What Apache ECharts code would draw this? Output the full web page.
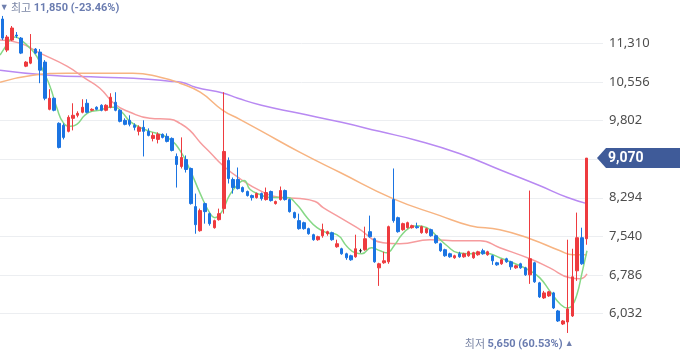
<!DOCTYPE html>
<html><head><meta charset="utf-8">
<script src="https://cdn.jsdelivr.net/npm/echarts@6/dist/echarts.min.js"></script>
<style>html,body{margin:0;padding:0;background:#fff}#c{width:680px;height:358px}</style>
</head><body><div id="c"></div>
<script>
// [open, close, low, high]
const candles = [
[11790,11417,11378,11850],[11182,11437,11143,11476],[11378,11614,11359,11653],[11476,11457,11417,11535],
[11417,11123,11104,11437],[10868,10947,10849,10966],[10927,11045,10907,11496],[11202,11123,11104,11221],
[11143,10790,10535,11202],[10947,10240,10201,10986],[10024,10240,10005,10417],[10240,10005,9985,10260],
[9750,9279,9259,9769],[9711,9475,9436,9750],[9593,9867,9573,9907],[9848,9907,9612,10142],
[9907,9946,9867,9985],[9966,10064,9946,10221],[10142,9966,9946,10221],[10005,10024,9985,10044],
[10064,10024,10005,10083],[10103,10005,9985,10123],[10005,10103,9985,10123],[10064,10260,10044,10338],
[10162,10005,9985,10358],[10005,9789,9769,10024],[9809,9730,9711,9848],[9809,9730,9691,9907],
[9711,9671,9612,9750],[9593,9671,9514,9711],[9671,9593,9102,9809],[9593,9514,9495,9652],
[9455,9514,9397,9573],[9436,9534,9357,9573],[9534,9475,9455,9553],[9495,9397,9377,9553],
[9455,9220,9200,9475],[9102,8945,8494,9161],[8906,9083,8867,9475],[9043,8847,8788,9122],
[8867,8180,8161,8886],[8121,7768,7591,8376],[7650,8043,7631,8082],[8180,8023,7788,8200],
[7984,7788,7749,8004],[7709,7847,7690,7866],[7866,7984,7847,8082],[8082,9200,7984,10358],
[9024,8671,8573,9083],[8651,8494,8376,8690],[8651,8474,8455,8886],[8494,8416,8396,8514],
[8416,8337,8318,8435],[8337,8298,8239,8357],[8298,8376,8278,8396],[8376,8278,8239,8396],
[8259,8396,8239,8494],[8416,8239,8220,8435],[8180,8220,8161,8239],[8259,8435,8239,8514],
[8435,8259,8239,8455],[8259,8023,8004,8278],[8004,7905,7886,8023],[7847,7690,7670,7984],
[7807,7690,7670,7827],[7690,7591,7572,7709],[7572,7474,7454,7591],[7474,7533,7454,7552],
[7552,7670,7513,7788],[7591,7631,7552,7650],[7611,7474,7454,7631],[7336,7395,7317,7474],
[7297,7199,7180,7317],[7199,7121,7081,7219],[7160,7081,7062,7180],[7140,7297,7121,7572],
[7258,7258,7219,7297],[7278,7493,7258,7729],[7631,7533,7513,7945],[7493,7042,7023,7513],
[6924,7003,6571,7023],[7023,7062,7003,7238],[7042,7729,7003,7749],[8259,7847,7807,8867],
[7905,7631,7611,7925],[7670,7788,7650,7807],[7709,7807,7690,7827],[7709,7749,7690,7768],
[7729,7709,7690,7807],[7611,7729,7591,7749],[7611,7690,7591,7709],[7670,7552,7533,7690],
[7552,7415,7395,7572],[7395,7258,7238,7415],[7278,7160,7140,7297],[7199,7140,7121,7219],
[7121,7160,7101,7180],[7199,7140,7121,7238],[7140,7199,7121,7219],[7160,7238,7140,7258],
[7121,7219,7101,7238],[7180,7238,7160,7258],[7258,7199,7180,7297],[7180,7238,7160,7258],
[7160,7062,6983,7180],[7023,6983,6964,7042],[7003,7081,6983,7101],[7101,7042,7023,7121],
[7042,6944,6885,7062],[6924,6964,6905,6983],[7003,6924,6905,7023],[6924,6787,6767,6944],
[6787,7101,6610,8435],[7023,6650,6630,7042],[6630,6356,6336,6650],[6336,6434,6316,6473],
[6375,6454,6356,6473],[6434,6140,6120,6454],[6081,5885,5865,6101],[5826,5885,5806,5904],
[5865,6120,5650,7474],[5983,6748,5963,7297],[6866,7513,6669,8004],[7513,7003,6983,7709],
[7493,9070,7376,9070]
];
// moving averages: [candle index, value]
const ma5 = [[-0.5,11084],[0.6,11241],[1.6,11378],[2.7,11437],[3.7,11398],[5.9,11221],[7.4,11045],[8.6,10790],[10.1,10476],[11.6,10044],[12.9,9769],[14.4,9691],[15.8,9730],[17.5,9907],[19,9985],[20.7,10005],[22.8,10064],[23.9,10064],[25.4,9966],[27.1,9789],[29.2,9671],[31.3,9593],[33.5,9534],[35.6,9436],[37.7,9220],[39.8,8847],[42,8376],[44.1,7984],[45.1,7905],[46.6,8023],[48.3,8357],[50.4,8592],[51.3,8631],[52.6,8455],[54.7,8357],[56.8,8298],[60.4,8298],[62.5,8161],[64.7,7905],[66.8,7709],[68.9,7611],[71,7572],[73.2,7336],[74.9,7219],[76.3,7199],[78.3,7317],[80.2,7258],[81.6,7219],[83.3,7376],[84.8,7572],[86.5,7709],[88,7749],[90.1,7709],[92.3,7533],[94.4,7356],[96.7,7219],[99.3,7199],[101.4,7219],[103.5,7199],[105.6,7121],[107.8,7042],[109.9,6964],[112,6866],[114.1,6728],[116.2,6473],[118.4,6218],[119.9,6140],[120.9,6179],[122,6414],[123,6807],[124.1,7258]];
const ma20 = [[-0.5,11378],[3.7,11319],[8,11123],[13.7,10868],[17.5,10633],[20.7,10437],[23.9,10123],[27.1,9966],[31.3,9848],[35.6,9828],[37.7,9750],[39.8,9612],[42,9377],[44.1,9181],[46.8,8926],[50.4,8671],[54.7,8435],[58.9,8298],[63.2,8278],[66.4,8220],[68.1,8102],[71.7,7905],[75.3,7709],[80.8,7415],[84.4,7395],[90.8,7474],[97.1,7454],[101.4,7454],[105.6,7317],[112,7101],[116.2,6924],[120.5,6728],[122.6,6709],[124.1,6807]];
const ma60 = [[-0.5,10554],[6.5,10691],[13.7,10731],[27.7,10731],[33.5,10652],[37.7,10535],[42,10358],[46.8,10005],[50.4,9828],[54.7,9612],[63.2,9181],[71.7,8788],[82.9,8278],[92.9,7945],[99.3,7749],[105.6,7670],[112,7494],[118.4,7258],[121.1,7180],[124.1,7180]];
const ma120 = [[-0.5,10790],[10,10691],[21,10652],[31,10613],[35.5,10574],[38,10554],[41,10456],[47,10338],[50,10240],[55,10103],[63,9946],[72,9769],[80,9593],[88,9416],[97,9161],[106,8828],[114,8533],[120,8298],[124.1,8180]];
const yTicks = {min: 5278, max: 12064, interval: 754};
const slotCount = 128;
const categories = Array.from({length: slotCount}, (_, i) => String(i + 1));

const highVal = 11850, lowVal = 5650, lastClose = 9070;
const fmt = v => v.toLocaleString('en-US');
const pctFromHigh = ((lastClose - highVal) / highVal * 100).toFixed(2);
const pctFromLow = ((lastClose - lowVal) / lowVal * 100).toFixed(2);

const chart = echarts.init(document.getElementById('c'), null, {renderer: 'canvas'});
const lineSeries = (name, data, color, w) => ({
  name, type: 'line', xAxisIndex: 1, data, smooth: true, symbol: 'none',
  lineStyle: {color, width: w}, z: 1, silent: true, animation: false
});
chart.setOption({
  animation: false,
  grid: {left: 0, right: 77, top: 5, bottom: 6},
  xAxis: [
    {type: 'category', data: categories, boundaryGap: true, show: false},
    {type: 'value', min: -0.5, max: slotCount - 0.5, show: false}
  ],
  yAxis: {
    type: 'value', position: 'right', min: yTicks.min, max: yTicks.max, interval: yTicks.interval,
    axisLine: {show: false}, axisTick: {show: false},
    splitLine: {show: true, showMinLine: false, showMaxLine: false, lineStyle: {color: '#eceef1', width: 1}},
    axisLabel: {
      margin: 6, color: '#4d4d4d', fontSize: 13, fontFamily: 'Noto Sans, sans-serif',
      showMinLabel: false, showMaxLabel: false,
      formatter: v => (v === 9048 ? '' : fmt(v))
    }
  },
  series: [
    lineSeries('MA120', ma120, '#b889f2', 1.5),
    lineSeries('MA60', ma60, '#f7b482', 1.5),
    lineSeries('MA20', ma20, '#f69c9e', 1.5),
    lineSeries('MA5', ma5, '#86d886', 1.5),
    {
      type: 'candlestick', data: candles, barWidth: 3, z: 3,
      itemStyle: {
        color: '#ee3b3f', color0: '#1b74e2',
        borderColor: '#ee3b3f', borderColor0: '#1b74e2', borderColorDoji: '#222', borderWidth: 1
      }
    }
  ]
});

const yLast = chart.convertToPixel({yAxisIndex: 0}, lastClose);
const hiPt = chart.convertToPixel({xAxisIndex: 0, yAxisIndex: 0}, [0, highVal]);
const loPt = chart.convertToPixel({xAxisIndex: 0, yAxisIndex: 0}, [120, lowVal]);
const fontK = '"Noto Sans CJK KR", sans-serif';
const fontN = 'Roboto, "Noto Sans", sans-serif';
chart.setOption({
  graphic: [
    {
      type: 'polygon', z: 100,
      shape: {points: [[597, yLast], [606, yLast - 10], [680, yLast - 10], [680, yLast + 10], [606, yLast + 10]]},
      style: {fill: '#3f5b99'}
    },
    {
      type: 'text', z: 101, x: 608, y: yLast,
      style: {text: fmt(lastClose), fill: '#fff', font: 'bold 14px Roboto, "Noto Sans", sans-serif', verticalAlign: 'middle', align: 'left'}
    },
    {
      type: 'text', z: 101, x: hiPt[0] - 2.5, y: hiPt[1] - 8,
      style: {
        text: '{s|▼ }{a|최고 }{b|' + fmt(highVal) + ' (' + pctFromHigh + '%)}',
        verticalAlign: 'middle', align: 'left',
        rich: {
          s: {fill: '#6f7fae', fontSize: 9, fontFamily: fontN},
          a: {fill: '#7c87a6', fontSize: 11, fontFamily: fontK},
          b: {fill: '#6a7cb0', fontSize: 11, fontWeight: 'bold', fontFamily: fontN}
        }
      }
    },
    {
      type: 'text', z: 101, x: loPt[0] + 6, y: loPt[1] + 11,
      style: {
        text: '{a|최저 }{b|' + fmt(lowVal) + ' (' + pctFromLow + '%)}{s| ▲}',
        verticalAlign: 'middle', align: 'right',
        rich: {
          s: {fill: '#6f7fae', fontSize: 9, fontFamily: fontN},
          a: {fill: '#7c87a6', fontSize: 11, fontFamily: fontK},
          b: {fill: '#6a7cb0', fontSize: 11, fontWeight: 'bold', fontFamily: fontN}
        }
      }
    }
  ]
});
</script>
</body></html>
